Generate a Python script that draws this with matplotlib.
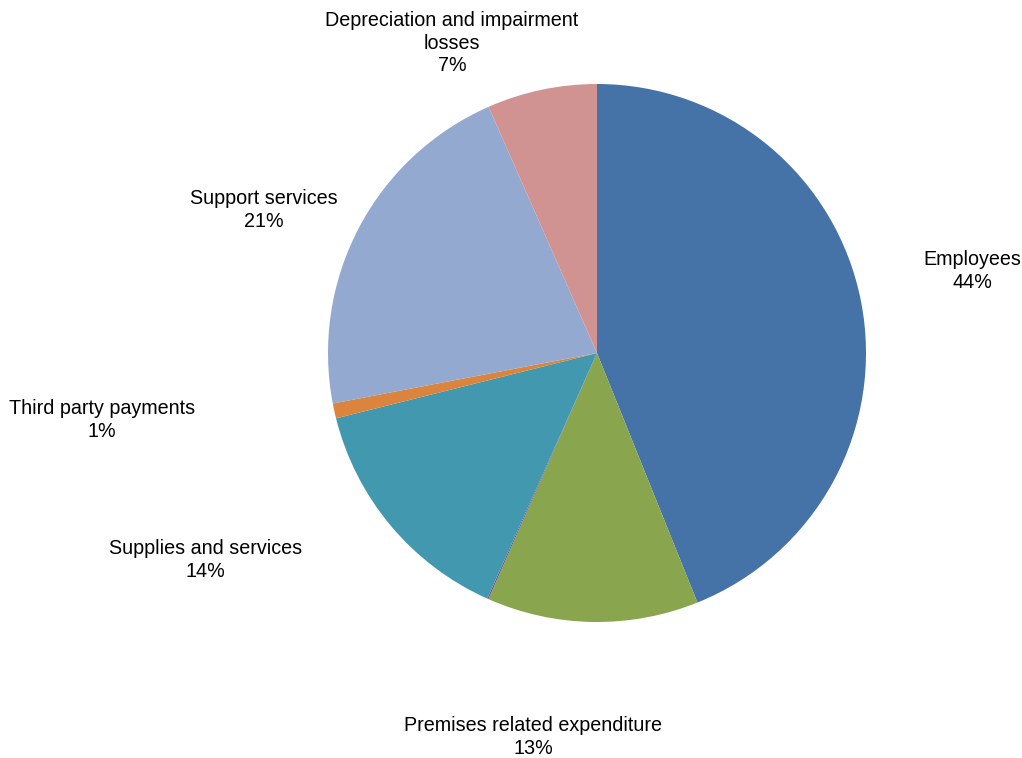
import matplotlib
matplotlib.use("Agg")
import matplotlib.pyplot as plt

plt.rcParams["font.family"] = ["Liberation Sans", "DejaVu Sans"]

# cost breakdown (percent of total), clockwise from 12 o'clock
categories = ["Employees", "Premises related expenditure", "Other",
              "Supplies and services", "Third party payments",
              "Support services", "Depreciation and impairment\nlosses"]
values = [43.9, 12.7, 0.08, 14.4, 0.9, 21.4, 6.6]
colors = ["#4572A7", "#89A54E", "#71588F", "#4198AF", "#DB843D",
          "#93A9CF", "#D19392"]
show_label = [True, True, False, True, True, True, True]

# label centres, in units of the pie radius
label_pos = [(1.394, 0.305), (-0.238, -1.428), (0, 0), (-1.457, -0.770),
             (-1.840, -0.249), (-1.238, 0.532), (-0.539, 1.152)]

fig = plt.figure(figsize=(10.22, 7.58), dpi=100)
W, H = 1022, 758
cx, cy, r = 597, 353, 269
ax = fig.add_axes([(cx - r) / W, (H - cy - r) / H, 2 * r / W, 2 * r / H])

wedges, _ = ax.pie(values, colors=colors, startangle=90, counterclock=False,
                   radius=1, wedgeprops=dict(linewidth=0))
ax.set_xlim(-1, 1)
ax.set_ylim(-1, 1)
ax.set_aspect("equal")
ax.axis("off")

total = sum(values)
for name, v, show, (x, y) in zip(categories, values, show_label, label_pos):
    if not show:
        continue
    ax.text(x, y, "%s\n%d%%" % (name, round(v / total * 100)),
            ha="center", va="center", fontsize=14.2, linespacing=1.25,
            clip_on=False)

fig.savefig("out.png", dpi=100)
